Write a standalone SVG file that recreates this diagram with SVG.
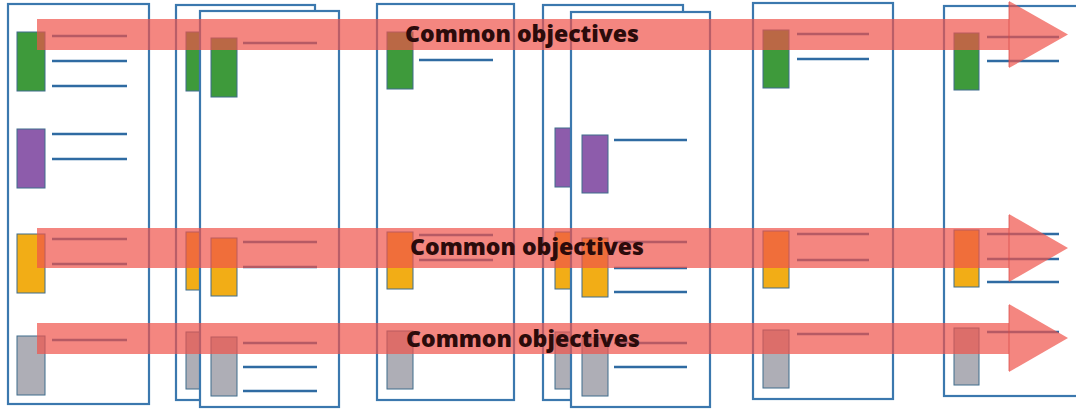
<svg xmlns="http://www.w3.org/2000/svg" width="1076" height="411" viewBox="0 0 1076 411">
  <style>
    .page { fill: #ffffff; stroke: #3b78ae; stroke-width: 2.2; }
    .ln { stroke: #2f6ba2; stroke-width: 2.4; fill: none; }
    .blk { stroke: #3f6c8c; stroke-width: 1; }
    .green { fill: #3e9a3b; }
    .purple { fill: #8d5cab; }
    .yellow { fill: #f2ad16; }
    .gray { fill: #aeaeb6; }
    .band { fill: rgb(239, 82, 74); fill-opacity: 0.7; }
    .seam { stroke: rgb(215, 70, 66); stroke-opacity: 0.6; stroke-width: 1.2; }
    .lbl { font-family: "Open Sans", "DejaVu Sans", sans-serif; font-weight: 800; font-size: 23.5px; fill: #2b0b0b; }
  </style>

  <!-- page 1 -->
  <g id="page1">
    <rect class="page" x="8" y="4" width="141" height="400"/>
    <rect class="blk green" x="17" y="32" width="28" height="59"/>
    <line class="ln" x1="52" y1="36" x2="127" y2="36"/>
    <line class="ln" x1="52" y1="61" x2="127" y2="61"/>
    <line class="ln" x1="52" y1="86" x2="127" y2="86"/>
    <rect class="blk purple" x="17" y="129" width="28" height="59"/>
    <line class="ln" x1="52" y1="134" x2="127" y2="134"/>
    <line class="ln" x1="52" y1="159" x2="127" y2="159"/>
    <rect class="blk yellow" x="17" y="234" width="28" height="59"/>
    <line class="ln" x1="52" y1="239" x2="127" y2="239"/>
    <line class="ln" x1="52" y1="264" x2="127" y2="264"/>
    <rect class="blk gray" x="17" y="336" width="28" height="59"/>
    <line class="ln" x1="52" y1="340" x2="127" y2="340"/>
  </g>

  <!-- page 2: stacked pair -->
  <g id="page2-back">
    <rect class="page" x="176" y="5" width="139" height="395"/>
    <rect class="blk green" x="186" y="32" width="26" height="59"/>
    <rect class="blk yellow" x="186" y="232" width="26" height="58"/>
    <rect class="blk gray" x="186" y="332" width="26" height="57"/>
  </g>
  <g id="page2">
    <rect class="page" x="200" y="11" width="139" height="396"/>
    <rect class="blk green" x="211" y="38" width="26" height="59"/>
    <line class="ln" x1="243" y1="43" x2="317" y2="43"/>
    <rect class="blk yellow" x="211" y="238" width="26" height="58"/>
    <line class="ln" x1="243" y1="242" x2="317" y2="242"/>
    <line class="ln" x1="243" y1="267" x2="317" y2="267"/>
    <rect class="blk gray" x="211" y="337" width="26" height="59"/>
    <line class="ln" x1="243" y1="343" x2="317" y2="343"/>
    <line class="ln" x1="243" y1="367" x2="317" y2="367"/>
    <line class="ln" x1="243" y1="391" x2="317" y2="391"/>
  </g>

  <!-- page 3 -->
  <g id="page3">
    <rect class="page" x="377" y="4" width="137" height="396"/>
    <rect class="blk green" x="387" y="32" width="26" height="57"/>
    <line class="ln" x1="419" y1="60" x2="493" y2="60"/>
    <rect class="blk yellow" x="387" y="232" width="26" height="57"/>
    <line class="ln" x1="419" y1="235" x2="493" y2="235"/>
    <line class="ln" x1="419" y1="260" x2="493" y2="260"/>
    <rect class="blk gray" x="387" y="331" width="26" height="58"/>
  </g>

  <!-- page 4: stacked pair -->
  <g id="page4-back">
    <rect class="page" x="543" y="5" width="140" height="395"/>
    <rect class="blk purple" x="555" y="128" width="26" height="59"/>
    <rect class="blk yellow" x="555" y="232" width="26" height="57"/>
    <rect class="blk gray" x="555" y="332" width="26" height="57"/>
  </g>
  <g id="page4">
    <rect class="page" x="571" y="12" width="139" height="395"/>
    <rect class="blk purple" x="582" y="135" width="26" height="58"/>
    <line class="ln" x1="614" y1="140" x2="687" y2="140"/>
    <rect class="blk yellow" x="582" y="238" width="26" height="59"/>
    <line class="ln" x1="614" y1="242" x2="687" y2="242"/>
    <line class="ln" x1="614" y1="268" x2="687" y2="268"/>
    <line class="ln" x1="614" y1="292" x2="687" y2="292"/>
    <rect class="blk gray" x="582" y="338" width="26" height="58"/>
    <line class="ln" x1="614" y1="343" x2="687" y2="343"/>
    <line class="ln" x1="614" y1="367" x2="687" y2="367"/>
  </g>

  <!-- page 5 -->
  <g id="page5">
    <rect class="page" x="753" y="3" width="140" height="396"/>
    <rect class="blk green" x="763" y="30" width="26" height="58"/>
    <line class="ln" x1="797" y1="34" x2="869" y2="34"/>
    <line class="ln" x1="797" y1="59" x2="869" y2="59"/>
    <rect class="blk yellow" x="763" y="231" width="26" height="57"/>
    <line class="ln" x1="797" y1="234" x2="869" y2="234"/>
    <line class="ln" x1="797" y1="260" x2="869" y2="260"/>
    <rect class="blk gray" x="763" y="330" width="26" height="58"/>
    <line class="ln" x1="797" y1="334" x2="869" y2="334"/>
  </g>

  <!-- page 6 (runs past the right edge) -->
  <g id="page6">
    <rect class="page" x="944" y="6" width="200" height="390"/>
    <rect class="blk green" x="954" y="33" width="25" height="57"/>
    <line class="ln" x1="987" y1="37" x2="1059" y2="37"/>
    <line class="ln" x1="987" y1="61" x2="1059" y2="61"/>
    <rect class="blk yellow" x="954" y="230" width="25" height="57"/>
    <line class="ln" x1="987" y1="234" x2="1059" y2="234"/>
    <line class="ln" x1="987" y1="259" x2="1059" y2="259"/>
    <line class="ln" x1="987" y1="282" x2="1059" y2="282"/>
    <rect class="blk gray" x="954" y="328" width="25" height="57"/>
    <line class="ln" x1="987" y1="332" x2="1059" y2="332"/>
  </g>

  <!-- translucent objective arrows across all pages -->
  <g id="connectors">
    <polygon class="band" points="37,19 1009,19 1009,1 1068,34.5 1009,68 1009,50 37,50"/>
    <line class="seam" x1="1009" y1="2" x2="1009" y2="67"/>
    <polygon class="band" points="37,228 1009,228 1009,214 1068,248 1009,282 1009,268 37,268"/>
    <line class="seam" x1="1009" y1="215" x2="1009" y2="281"/>
    <polygon class="band" points="37,323 1009,323 1009,304 1068,338 1009,372 1009,354 37,354"/>
    <line class="seam" x1="1009" y1="305" x2="1009" y2="371"/>
  </g>

  <g id="labels">
    <text class="lbl" x="405" y="42" textLength="234" lengthAdjust="spacingAndGlyphs">Common objectives</text>
    <text class="lbl" x="410" y="255" textLength="234" lengthAdjust="spacingAndGlyphs">Common objectives</text>
    <text class="lbl" x="406" y="347" textLength="234" lengthAdjust="spacingAndGlyphs">Common objectives</text>
  </g>
</svg>
